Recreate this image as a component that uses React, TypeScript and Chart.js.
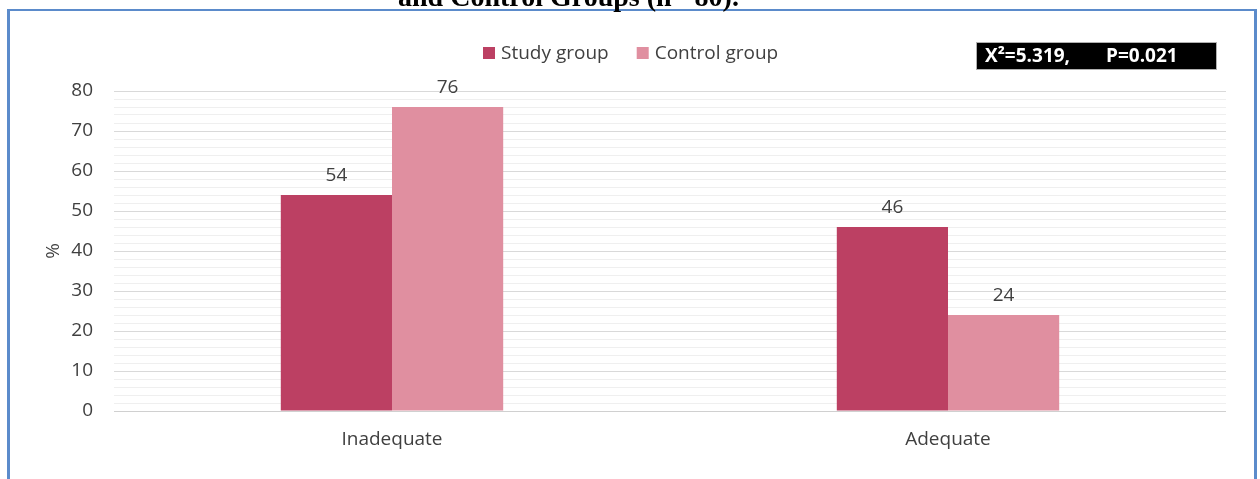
import React, { useEffect, useRef } from "react";
import { Chart, registerables } from "chart.js";

Chart.register(...registerables);

// Categories and series (%)
const categories = ["Inadequate", "Adequate"];
const studyGroup = [54, 46];
const controlGroup = [76, 24];
const seriesNames = ["Study group", "Control group"];
const seriesColors = ["#BC4063", "#E08FA0"];

// Axis settings
const yMin = 0;
const yMax = 80;
const yMinorStep = 2;
const yMajorStep = 10;
const yTitle = "%";

// Test statistic shown in the black box
const statParts = ["X\u00B2=5.319,", "P=0.021"];
const headingText = "and Control Groups (n= 80).";

const FONT = "'Open Sans', 'Liberation Sans', sans-serif";
const TEXT_COLOR = "#404040";

const W = 1260;
const H = 479;

// Value labels above each bar
const valueLabels = {
  id: "valueLabels",
  afterDatasetsDraw(chart: any) {
    const ctx = chart.ctx;
    ctx.save();
    ctx.font = `19px ${FONT}`;
    ctx.fillStyle = TEXT_COLOR;
    ctx.textAlign = "center";
    ctx.textBaseline = "middle";
    chart.data.datasets.forEach((ds: any, di: number) => {
      const meta = chart.getDatasetMeta(di);
      meta.data.forEach((bar: any, i: number) => {
        ctx.fillText(String(ds.data[i]), bar.x, bar.y - 19);
      });
    });
    ctx.restore();
  },
};

// Legend row and statistic box along the top
const headerItems = {
  id: "headerItems",
  afterDraw(chart: any) {
    const ctx = chart.ctx;
    ctx.save();
    ctx.font = `19px ${FONT}`;
    ctx.textBaseline = "middle";
    ctx.textAlign = "left";
    let x = 483;
    const cy = 53;
    seriesNames.forEach((name, i) => {
      ctx.fillStyle = seriesColors[i];
      ctx.fillRect(x, cy - 6, 12, 12);
      ctx.fillStyle = TEXT_COLOR;
      ctx.fillText(name, x + 18, cy + 1);
      x += 18 + ctx.measureText(name).width + 28;
    });

    // statistic box
    ctx.fillStyle = "#000000";
    ctx.fillRect(976, 42, 241, 28);
    ctx.strokeStyle = "#b0b0b0";
    ctx.lineWidth = 1;
    ctx.strokeRect(976.5, 42.5, 240, 27);
    ctx.fillStyle = "#ffffff";
    ctx.font = `bold 19px ${FONT}`;
    ctx.fillText(statParts[0], 985, 57);
    ctx.fillText(statParts[1], 1106, 57);
    ctx.restore();
  },
};

export default function App() {
  const canvasRef = useRef<HTMLCanvasElement | null>(null);

  useEffect(() => {
    const canvas = canvasRef.current;
    if (!canvas) return;
    const chart = new Chart(canvas, {
      type: "bar",
      data: {
        labels: categories,
        datasets: [
          {
            label: seriesNames[0],
            data: studyGroup,
            backgroundColor: seriesColors[0],
            borderWidth: 0,
            categoryPercentage: 0.4,
            barPercentage: 1,
          },
          {
            label: seriesNames[1],
            data: controlGroup,
            backgroundColor: seriesColors[1],
            borderWidth: 0,
            categoryPercentage: 0.4,
            barPercentage: 1,
          },
        ],
      },
      options: {
        responsive: false,
        animation: false,
        devicePixelRatio: 1,
        layout: { padding: { top: 91, right: 34, bottom: 0, left: 0 } },
        plugins: {
          legend: { display: false },
          tooltip: { enabled: false },
          title: { display: false },
        },
        scales: {
          x: {
            grid: { display: false, drawTicks: false },
            border: { display: false },
            ticks: {
              color: TEXT_COLOR,
              font: { family: FONT, size: 19 },
              padding: 17,
            },
            afterFit(scale: any) {
              scale.height = 68;
            },
          },
          y: {
            min: yMin,
            max: yMax,
            border: { display: false },
            grid: {
              drawTicks: false,
              lineWidth: 1,
              color: (c: any) => {
                const v = c.tick ? c.tick.value : 0;
                if (v === 0) return "#d0d0d0";
                return v % yMajorStep === 0 ? "#d9d9d9" : "#efefef";
              },
            },
            ticks: {
              stepSize: yMinorStep,
              autoSkip: false,
              color: TEXT_COLOR,
              font: { family: FONT, size: 19 },
              padding: 21,
              callback: (v: any) => (Number(v) % yMajorStep === 0 ? String(v) : ""),
            },
            title: {
              display: true,
              text: yTitle,
              color: TEXT_COLOR,
              font: { family: FONT, size: 19 },
              padding: { top: 42, bottom: 0 },
            },
            afterFit(scale: any) {
              scale.width = 114;
            },
          },
        },
      },
      plugins: [valueLabels, headerItems],
    });
    return () => chart.destroy();
  }, []);

  return (
    <div
      style={{
        position: "absolute",
        left: 0,
        top: 0,
        width: W,
        height: H,
        overflow: "hidden",
        background: "#ffffff",
      }}
    >
      <canvas
        ref={canvasRef}
        width={W}
        height={H}
        style={{ position: "absolute", left: 0, top: 0, display: "block" }}
      />
      <div
        style={{
          position: "absolute",
          left: 7,
          top: 9,
          width: 1250,
          height: 520,
          boxSizing: "border-box",
          borderLeft: "3px solid #5B8BCB",
          borderRight: "3px solid #5B8BCB",
          borderTop: "2.5px solid #5B8BCB",
          pointerEvents: "none",
        }}
      />
      <div
        style={{
          position: "absolute",
          left: 0,
          width: 1137,
          top: -19,
          textAlign: "center",
          fontFamily: "'Liberation Serif', serif",
          fontWeight: "bold",
          fontSize: 28,
          lineHeight: "32px",
          color: "#000",
          whiteSpace: "nowrap",
        }}
      >
        {headingText}
      </div>
    </div>
  );
}
